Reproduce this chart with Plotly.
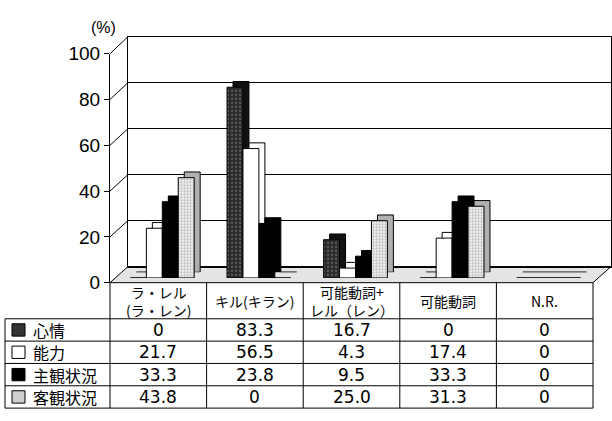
import plotly.graph_objects as go

# ---------------- data ----------------
categories = ["ラ・レル<br>(ラ・レン)", "キル(キラン)", "可能動詞+<br>レル（レン）", "可能動詞", "N.R."]
series_names = ["心情", "能力", "主観状況", "客観状況"]
shinjo = [0, 83.3, 16.7, 0, 0]
nouryoku = [21.7, 56.5, 4.3, 17.4, 0]
shukan = [33.3, 23.8, 9.5, 33.3, 0]
kyakkan = [43.8, 0, 25.0, 31.3, 0]
y_ticks = [0, 20, 40, 60, 80, 100]
series_values = [shinjo, nouryoku, shukan, kyakkan]

# ---------------- styling ----------------
W, H = 612, 421
def fx(px):
    return px / W
def fy(py):
    return (H - py) / H

front_face = [
    dict(color="#2a2a2a", pattern=dict(shape=".", fgcolor="#8a8a8a", bgcolor="#2a2a2a", size=4, solidity=0.25)),
    dict(color="white"),
    dict(color="black"),
    dict(color="#d0d0d0", pattern=dict(shape=".", fgcolor="#8c8c8c", bgcolor="#f2f2f2", size=3, solidity=0.45)),
]
depth_face = ["#111111", "white", "black", "#b0b0b0"]
legend_fill = ["#333333", "white", "black", "#cfcfcf"]

NUM_FONT = "DejaVu Sans, Liberation Sans, sans-serif"
JP_FONT = "Noto Sans CJK JP, sans-serif"
TICK_FONT = "Liberation Sans, Arial, sans-serif"

xcat = list(range(len(categories)))

fig = go.Figure()
# invisible carriers so the wall and the value axis are drawn
fig.add_trace(go.Scatter(x=xcat, y=shinjo, xaxis="x", yaxis="y", mode="none", showlegend=False, hoverinfo="skip"))
fig.add_trace(go.Scatter(x=xcat, y=shinjo, xaxis="x2", yaxis="y2", mode="none", showlegend=False, hoverinfo="skip"))
# depth (top/side faces) copies
for i, vals in enumerate(series_values):
    fig.add_trace(go.Bar(x=xcat, y=vals, xaxis="x3", yaxis="y3", showlegend=False,
                         marker=dict(color=depth_face[i], line=dict(color="black", width=1)),
                         hoverinfo="skip"))
# front faces
for i, vals in enumerate(series_values):
    fig.add_trace(go.Bar(x=xcat, y=vals, xaxis="x4", yaxis="y4", name=series_names[i], showlegend=False,
                         marker=dict(line=dict(color="black", width=1), **front_face[i])))

hidden_x = dict(range=[-0.5, len(categories) - 0.5], visible=False)
hidden_y = dict(range=[0, 100], visible=False)

fig.update_layout(
    width=W, height=H,
    margin=dict(l=0, r=0, t=0, b=0),
    paper_bgcolor="white", plot_bgcolor="rgba(0,0,0,0)",
    barmode="group", bargap=0.34, bargroupgap=0,
    showlegend=False,
    # back wall
    xaxis=dict(domain=[fx(128), fx(611)], anchor="y", range=[-0.5, 4.5], showticklabels=False,
               ticks="", showgrid=False, zeroline=False, showline=True, mirror=True,
               linecolor="black", linewidth=1),
    yaxis=dict(domain=[fy(270), fy(28)], anchor="x", range=[0, 100], tickvals=y_ticks,
               showticklabels=False, ticks="", showgrid=True, gridcolor="black", gridwidth=1,
               zeroline=False, showline=True, mirror=True, linecolor="black", linewidth=1),
    # front value axis
    xaxis2=dict(domain=[fx(110), fx(593)], anchor="y2", range=[-0.5, 4.5], visible=False),
    yaxis2=dict(domain=[fy(287), fy(46)], anchor="x2", range=[0, 100], tickvals=y_ticks,
                ticks="outside", ticklen=5, tickcolor="black", showgrid=False, zeroline=False,
                showline=True, linecolor="black", linewidth=1,
                tickfont=dict(family=TICK_FONT, size=19, color="black")),
    # bar depth copies
    xaxis3=dict(domain=[fx(120), fx(603)], anchor="y3", **hidden_x),
    yaxis3=dict(domain=[fy(276), fy(35)], anchor="x3", **hidden_y),
    # bar fronts
    xaxis4=dict(domain=[fx(114), fx(597)], anchor="y4", **hidden_x),
    yaxis4=dict(domain=[fy(282), fy(41)], anchor="x4", **hidden_y),
)

shapes = []
# floor
shapes.append(dict(type="path", xref="paper", yref="paper", layer="below",
                   path=f"M {fx(110)},{fy(287)} L {fx(593)},{fy(287)} L {fx(611)},{fy(270)} L {fx(128)},{fy(270)} Z",
                   fillcolor="#e4e4e4", line=dict(color="black", width=1)))
# connectors between front axis and back wall
for v in y_ticks[1:]:
    yf = 287 - (287 - 46) * v / 100
    yb = 270 - (270 - 28) * v / 100
    shapes.append(dict(type="line", xref="paper", yref="paper", x0=fx(110), y0=fy(yf), x1=fx(128), y1=fy(yb),
                       line=dict(color="black", width=1)))

# table
col_edges = [110 + i * (593 - 110) / len(categories) for i in range(len(categories) + 1)]
row_edges = [325 + i * (419 - 325) / len(series_names) for i in range(len(series_names) + 1)]
for xe in col_edges:
    shapes.append(dict(type="line", xref="paper", yref="paper", x0=fx(xe), y0=fy(287), x1=fx(xe), y1=fy(419),
                       line=dict(color="black", width=1)))
shapes.append(dict(type="line", xref="paper", yref="paper", x0=fx(5), y0=fy(325), x1=fx(5), y1=fy(419),
                   line=dict(color="black", width=1)))
for ye in row_edges:
    shapes.append(dict(type="line", xref="paper", yref="paper", x0=fx(5), y0=fy(ye), x1=fx(593), y1=fy(ye),
                       line=dict(color="black", width=1)))

annotations = []
def ann(text, x, y, font, xanchor="center"):
    annotations.append(dict(text=text, xref="paper", yref="paper", x=fx(x), y=fy(y), showarrow=False,
                            xanchor=xanchor, yanchor="middle", font=font))

ann("(%)", 103, 18, dict(family=TICK_FONT, size=16, color="black"))
for j, cat in enumerate(categories):
    cx = (col_edges[j] + col_edges[j + 1]) / 2
    ann(cat, cx, 306, dict(family=JP_FONT, size=14, color="black"))
for i, name in enumerate(series_names):
    cy = (row_edges[i] + row_edges[i + 1]) / 2
    shapes.append(dict(type="rect", xref="paper", yref="paper", x0=fx(12), x1=fx(25),
                       y0=fy(cy - 6.5), y1=fy(cy + 6.5), fillcolor=legend_fill[i],
                       line=dict(color="black", width=1)))
    ann(name, 31, cy, dict(family=JP_FONT, size=16, color="black"), xanchor="left")
    for j, v in enumerate(series_values[i]):
        cx = (col_edges[j] + col_edges[j + 1]) / 2
        label = "0" if v == 0 else f"{v:.1f}"
        ann(label, cx, cy, dict(family=NUM_FONT, size=17, color="black"))

fig.update_layout(shapes=shapes, annotations=annotations)
fig.write_html("out.html")
